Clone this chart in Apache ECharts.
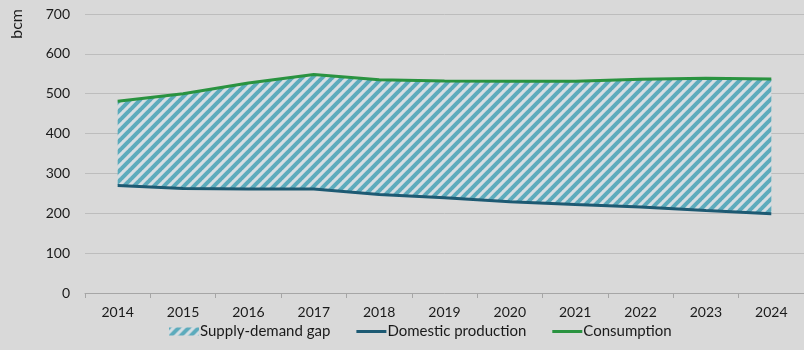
<!DOCTYPE html>
<html>
<head>
<meta charset="utf-8">
<script src="https://cdn.jsdelivr.net/npm/echarts@6/dist/echarts.min.js"></script>
<style>
html,body{margin:0;padding:0;background:#d9d9d9;}
#chart{width:804px;height:350px;}
</style>
</head>
<body>
<div id="chart"></div>
<script>
var years = ['2014','2015','2016','2017','2018','2019','2020','2021','2022','2023','2024'];
var production = [270, 262, 261, 261, 247, 239, 229, 222, 216, 207, 199];
var consumption = [481, 500, 527, 548, 535, 532, 531, 531, 536, 539, 537];
var yTicks = [0, 100, 200, 300, 400, 500, 600, 700];

var gap = consumption.map(function (c, i) { return c - production[i]; });

function makePattern() {
  var s = 10;
  var c = document.createElement('canvas');
  c.width = s; c.height = s;
  var ctx = c.getContext('2d');
  ctx.fillStyle = '#d5dee3';
  ctx.fillRect(0, 0, s, s);
  ctx.strokeStyle = '#5cabbc';
  ctx.lineWidth = 4;
  for (var k = -1; k <= 1; k++) {
    ctx.beginPath();
    ctx.moveTo(k * s - 1, s + 1);
    ctx.lineTo(k * s + s + 1, -1);
    ctx.stroke();
  }
  return c;
}
var pattern = { image: makePattern(), repeat: 'repeat' };

var font = 'Lato, "Open Sans", sans-serif';
var lineIcon = 'path://M0,0H30V3H0Z';
var chart = echarts.init(document.getElementById('chart'));
chart.setOption({
  backgroundColor: '#d9d9d9',
  animation: false,
  textStyle: { fontFamily: font },
  grid: { left: 85, right: -15, top: 14, bottom: 57, containLabel: false },
  xAxis: {
    type: 'category',
    data: years,
    boundaryGap: true,
    axisLine: { lineStyle: { color: '#a6a6a6', width: 1 } },
    axisTick: { show: true, length: 5, lineStyle: { color: '#a6a6a6' } },
    axisLabel: { color: '#1a1a1a', fontSize: 14, margin: 12, fontFamily: font },
    splitLine: { show: false }
  },
  yAxis: {
    type: 'value',
    min: yTicks[0],
    max: yTicks[yTicks.length - 1],
    interval: 100,
    axisLine: { show: false },
    axisTick: { show: false },
    axisLabel: { color: '#1a1a1a', fontSize: 14, margin: 15, fontFamily: font },
    splitLine: { lineStyle: { color: '#bdbdbd', width: 1 } }
  },
  graphic: [{
    type: 'text',
    x: 9, y: 9,
    rotation: Math.PI / 2,
    style: { text: 'bcm', fill: '#1a1a1a', font: '16px ' + font, align: 'right', verticalAlign: 'top' }
  }],
  legend: {
    bottom: 6,
    left: 164,
    itemGap: 26,
    itemWidth: 30,
    itemHeight: 8,
    symbolKeepAspect: true,
    textStyle: { color: '#1a1a1a', fontSize: 15, fontFamily: font, padding: [0, 0, 0, -4] },
    data: [
      { name: 'Supply-demand gap', icon: 'rect', itemStyle: { color: pattern } },
      { name: 'Domestic production', icon: lineIcon, itemStyle: { color: '#1d5a73' } },
      { name: 'Consumption', icon: lineIcon, itemStyle: { color: '#2a9340' } }
    ]
  },
  series: [
    {
      name: 'base', type: 'line', stack: 'gap', data: production,
      symbol: 'none', lineStyle: { width: 0 }, silent: true
    },
    {
      name: 'Supply-demand gap', type: 'line', stack: 'gap', data: gap,
      symbol: 'none', lineStyle: { width: 0 }, itemStyle: { color: pattern },
      areaStyle: { color: pattern, opacity: 1 }
    },
    {
      name: 'Domestic production', type: 'line', data: production,
      symbol: 'none', z: 5,
      lineStyle: { color: '#1d5a73', width: 3 }, itemStyle: { color: '#1d5a73' }
    },
    {
      name: 'Consumption', type: 'line', data: consumption,
      symbol: 'none', z: 5,
      lineStyle: { color: '#2a9340', width: 3 }, itemStyle: { color: '#2a9340' }
    }
  ]
});
</script>
</body>
</html>
